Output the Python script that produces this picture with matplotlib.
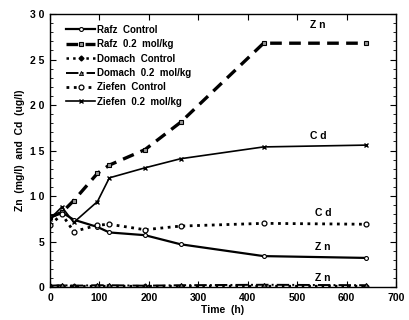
import matplotlib
matplotlib.use("Agg")
import matplotlib.pyplot as plt
from matplotlib.ticker import MultipleLocator, FixedLocator

plt.rcParams['font.family'] = ['Liberation Sans', 'DejaVu Sans']
plt.rcParams['font.weight'] = 'bold'

# sampling times (h)
t = [0, 24, 48, 96, 120, 192, 264, 432, 640]

# Zn (mg/l)
rafz_control = [7.6, 8.2, 7.4, 6.6, 6.0, 5.7, 4.7, 3.4, 3.2]
rafz_02 = [7.7, 8.2, 9.5, 12.5, 13.4, 15.1, 18.1, 26.8, 26.8]
domach_control = [0.1, 0.15, 0.1, 0.1, 0.1, 0.1, 0.1, 0.1, 0.1]
domach_02 = [0.15, 0.2, 0.15, 0.2, 0.2, 0.15, 0.2, 0.25, 0.2]

# Cd (ug/l)
ziefen_control = [6.8, 8.0, 6.1, 6.8, 6.9, 6.3, 6.7, 7.0, 6.9]
ziefen_02 = [7.5, 8.8, 7.1, 9.4, 12.0, 13.1, 14.1, 15.4, 15.6]

ytick_vals = [0, 5, 10, 15, 20, 25, 30]
ytick_text = ['0', '5', '1 0', '1 5', '2 0', '2 5', '3 0']

# element labels placed near the curve ends (data coords)
tag_x = [542, 542, 552, 552, 552]
tag_y = [28.8, 16.6, 8.1, 4.4, 1.0]
tag_s = ['Z n', 'C d', 'C d', 'Z n', 'Z n']

fig = plt.figure(figsize=(4.1, 3.2), dpi=100)
ax = fig.add_axes([0.122, 0.103, 0.844, 0.853])

ax.plot(t, rafz_control, '-', color='black', lw=1.6, marker='o', ms=2.8,
        mfc='white', mec='black', mew=0.8, label='Rafz  Control')
ax.plot(t, rafz_02, '--', color='black', lw=2.4, dashes=(3.5, 2.2), marker='s', ms=3.5,
        mfc='0.6', mec='black', mew=0.8, label='Rafz  0.2  mol/kg')
ax.plot(t, domach_control, ':', color='black', lw=1.8, marker='D', ms=2.5,
        mfc='black', mec='black', label='Domach  Control')
ax.plot(t, domach_02, '-.', color='black', lw=1.4, marker='^', ms=3,
        mfc='0.5', mec='black', mew=0.6, label='Domach  0.2  mol/kg')
ax.plot(t, ziefen_control, ':', color='black', lw=2.0, marker='o', ms=3.5,
        mfc='white', mec='black', mew=0.9, label='Ziefen  Control')
ax.plot(t, ziefen_02, '-', color='black', lw=1.2, marker='x', ms=3.5,
        mew=1.0, label='Ziefen  0.2  mol/kg')

for x, y, s in zip(tag_x, tag_y, tag_s):
    ax.text(x, y, s, fontsize=7.5, fontweight='bold', ha='center', va='center')

ax.set_xlim(0, 700)
ax.set_ylim(0, 30)
ax.xaxis.set_major_locator(MultipleLocator(100))
ax.yaxis.set_major_locator(FixedLocator(ytick_vals))
ax.set_yticklabels(ytick_text)
ax.yaxis.set_minor_locator(MultipleLocator(1))
ax.tick_params(which='both', direction='in', top=True, right=True,
               labelsize=7.5, pad=4)
ax.tick_params(which='major', length=4, width=0.8)
ax.tick_params(which='minor', length=2, width=0.6)
for lab in ax.get_xticklabels() + ax.get_yticklabels():
    lab.set_fontweight('bold')
for sp in ax.spines.values():
    sp.set_linewidth(1.0)

ax.set_xlabel('Time  (h)', fontsize=7.5, fontweight='bold', labelpad=2)
ax.set_ylabel('Zn  (mg/l)  and  Cd  (ug/l)', fontsize=7.5, fontweight='bold', labelpad=4)

ax.legend(loc='upper left', frameon=False, fontsize=7, handlelength=3.0,
          handletextpad=0.2, labelspacing=0.45, borderaxespad=0.0,
          bbox_to_anchor=(0.035, 0.975))

fig.savefig('out.png', dpi=100)
